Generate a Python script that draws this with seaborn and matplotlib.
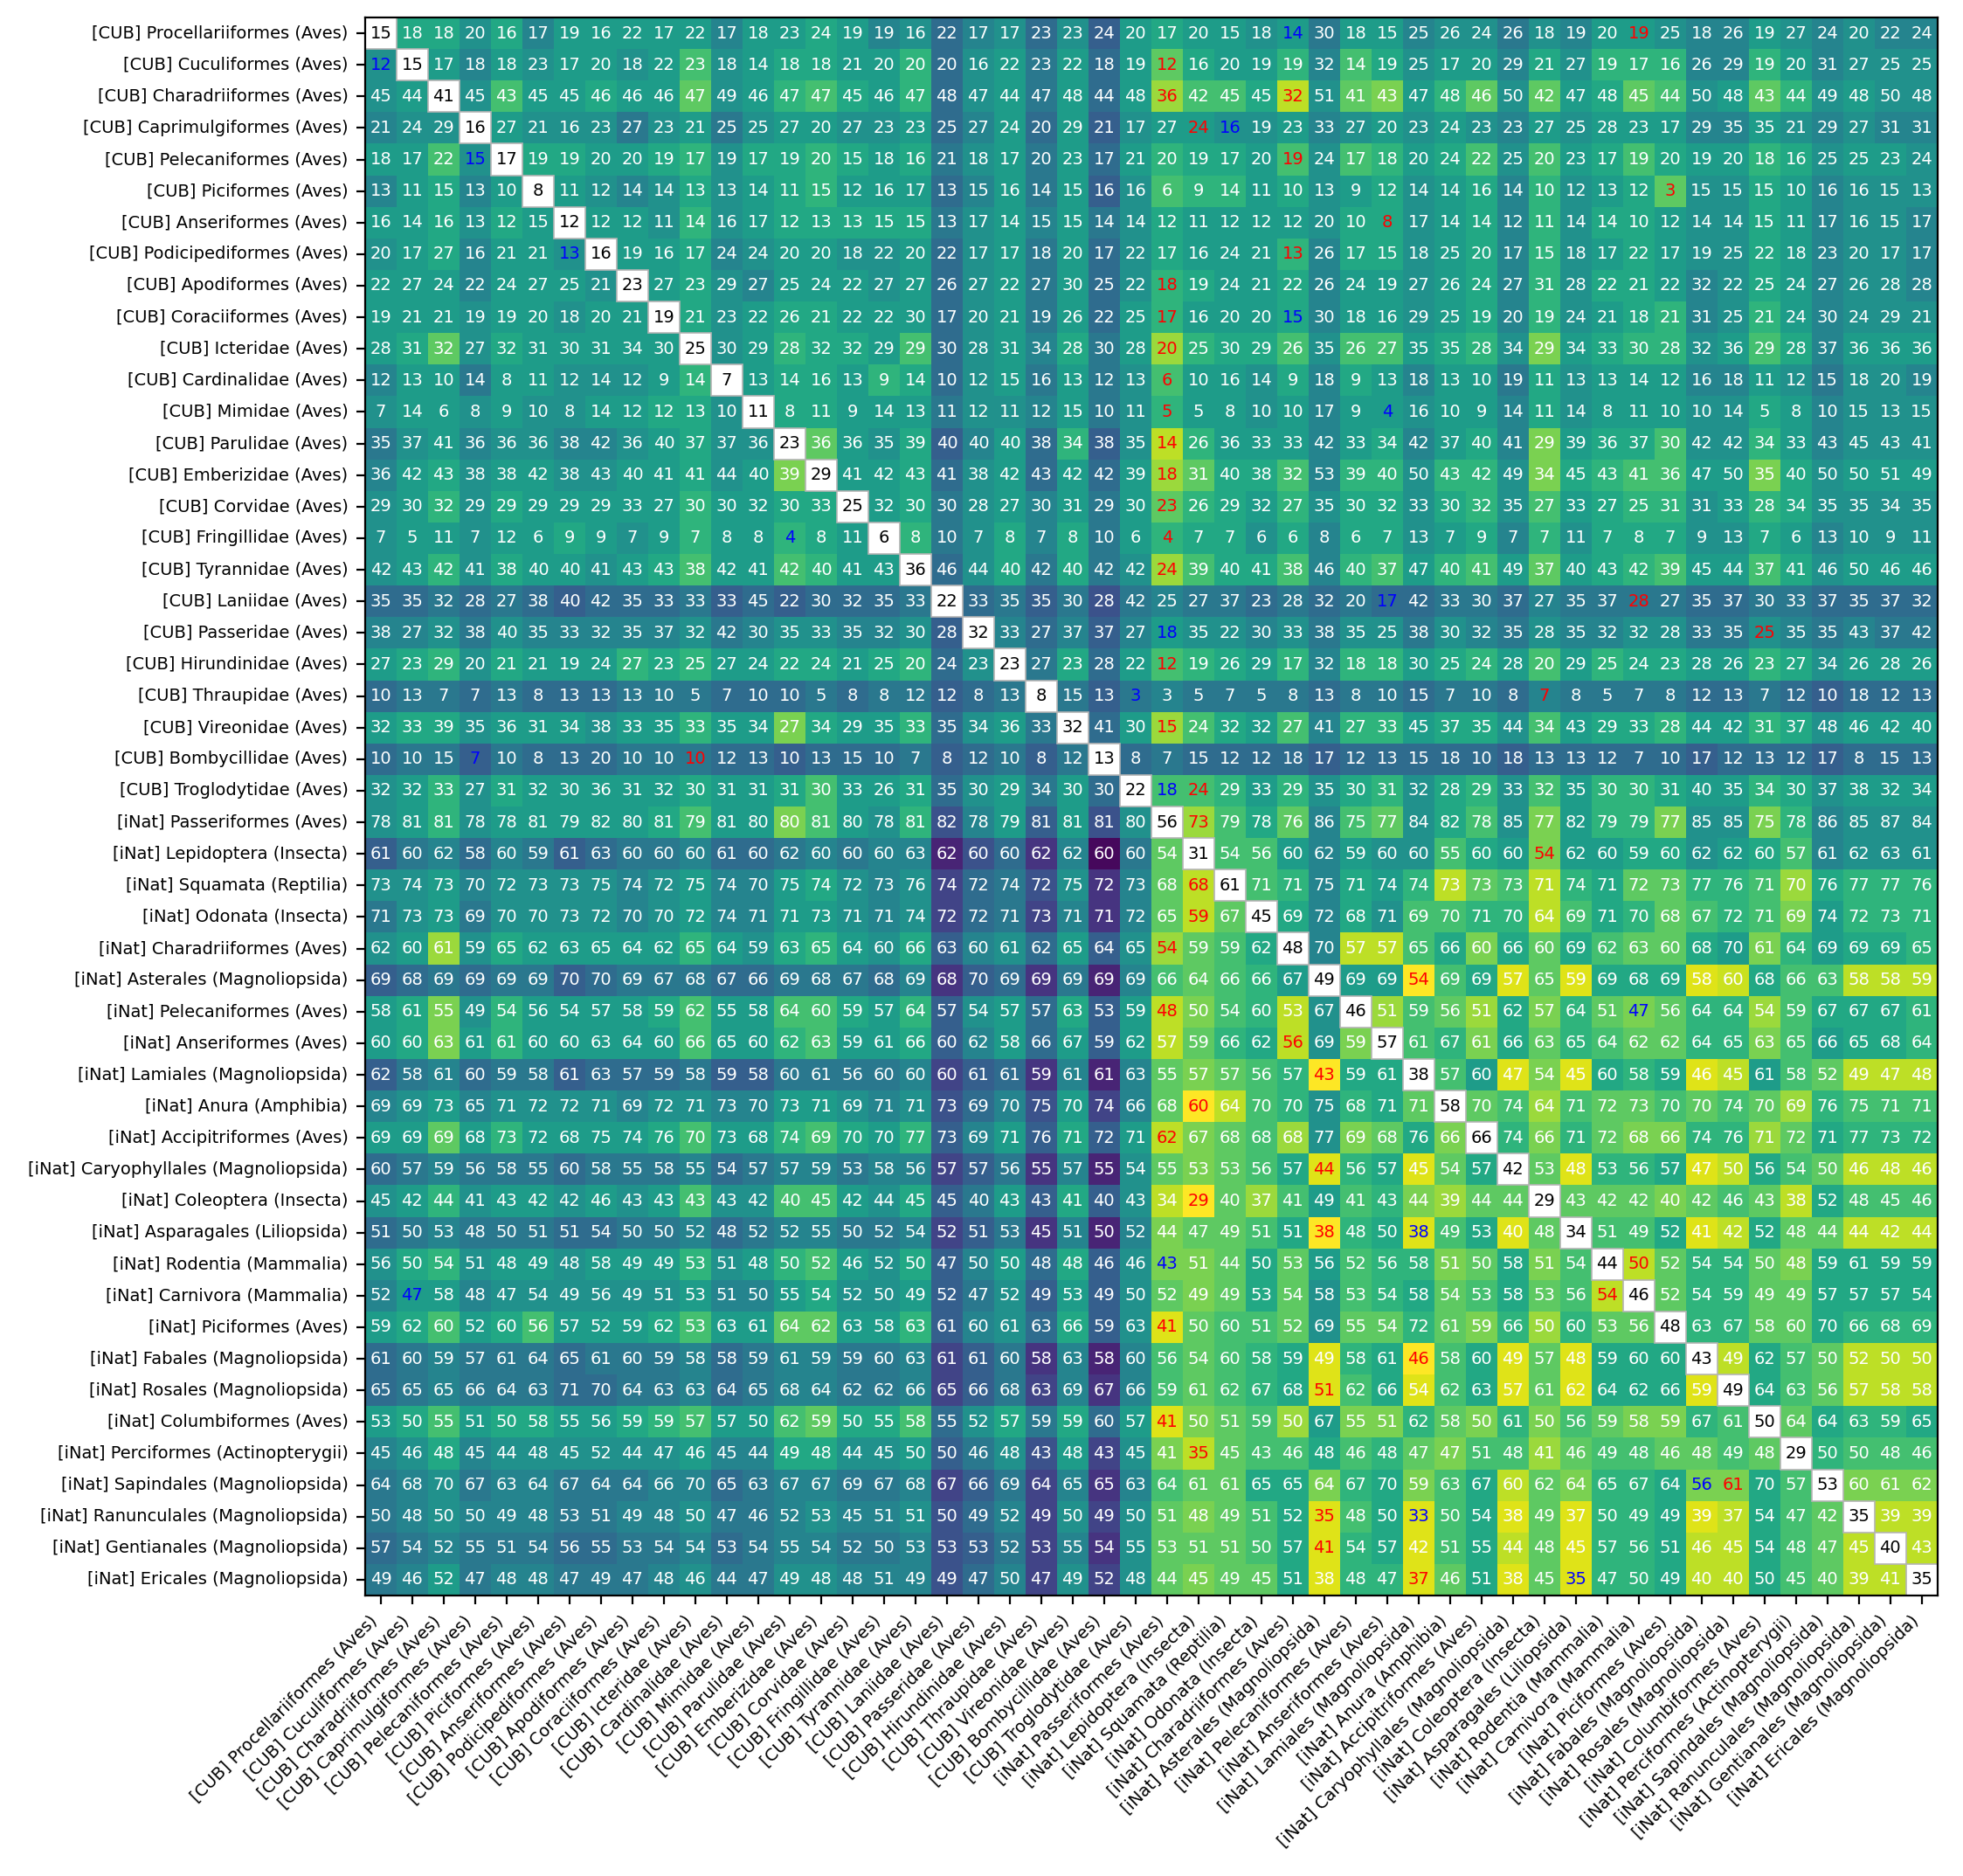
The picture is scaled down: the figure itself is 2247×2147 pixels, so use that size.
import matplotlib

matplotlib.use("Agg")
import matplotlib.pyplot as plt
import numpy as np
import pandas as pd
import seaborn as sns
from matplotlib.colors import ListedColormap
from matplotlib.patches import Rectangle

LABELS = [
    "[CUB] Procellariiformes (Aves)", "[CUB] Cuculiformes (Aves)", "[CUB] Charadriiformes (Aves)",
    "[CUB] Caprimulgiformes (Aves)", "[CUB] Pelecaniformes (Aves)", "[CUB] Piciformes (Aves)",
    "[CUB] Anseriformes (Aves)", "[CUB] Podicipediformes (Aves)", "[CUB] Apodiformes (Aves)",
    "[CUB] Coraciiformes (Aves)", "[CUB] Icteridae (Aves)", "[CUB] Cardinalidae (Aves)",
    "[CUB] Mimidae (Aves)", "[CUB] Parulidae (Aves)", "[CUB] Emberizidae (Aves)",
    "[CUB] Corvidae (Aves)", "[CUB] Fringillidae (Aves)", "[CUB] Tyrannidae (Aves)",
    "[CUB] Laniidae (Aves)", "[CUB] Passeridae (Aves)", "[CUB] Hirundinidae (Aves)",
    "[CUB] Thraupidae (Aves)", "[CUB] Vireonidae (Aves)", "[CUB] Bombycillidae (Aves)",
    "[CUB] Troglodytidae (Aves)", "[iNat] Passeriformes (Aves)", "[iNat] Lepidoptera (Insecta)",
    "[iNat] Squamata (Reptilia)", "[iNat] Odonata (Insecta)", "[iNat] Charadriiformes (Aves)",
    "[iNat] Asterales (Magnoliopsida)", "[iNat] Pelecaniformes (Aves)", "[iNat] Anseriformes (Aves)",
    "[iNat] Lamiales (Magnoliopsida)", "[iNat] Anura (Amphibia)", "[iNat] Accipitriformes (Aves)",
    "[iNat] Caryophyllales (Magnoliopsida)", "[iNat] Coleoptera (Insecta)", "[iNat] Asparagales (Liliopsida)",
    "[iNat] Rodentia (Mammalia)", "[iNat] Carnivora (Mammalia)", "[iNat] Piciformes (Aves)",
    "[iNat] Fabales (Magnoliopsida)", "[iNat] Rosales (Magnoliopsida)", "[iNat] Columbiformes (Aves)",
    "[iNat] Perciformes (Actinopterygii)", "[iNat] Sapindales (Magnoliopsida)", "[iNat] Ranunculales (Magnoliopsida)",
    "[iNat] Gentianales (Magnoliopsida)", "[iNat] Ericales (Magnoliopsida)",
]

# numbers printed in the cells
DIST = [
    [15,18,18,20,16,17,19,16,22,17,22,17,18,23,24,19, 19,16,22,17,17,23,23,24,20,17,20,15,18,14,30,18,15, 25,26,24,26,18,19,20,19,25,18,26,19,27,24,20,22,24],
    [12,15,17,18,18,23,17,20,18,22,23,18,14,18,18,21, 20,20,20,16,22,23,22,18,19,12,16,20,19,19,32,14,19, 25,17,20,29,21,27,19,17,16,26,29,19,20,31,27,25,25],
    [45,44,41,45,43,45,45,46,46,46,47,49,46,47,47,45, 46,47,48,47,44,47,48,44,48,36,42,45,45,32,51,41,43, 47,48,46,50,42,47,48,45,44,50,48,43,44,49,48,50,48],
    [21,24,29,16,27,21,16,23,27,23,21,25,25,27,20,27, 23,23,25,27,24,20,29,21,17,27,24,16,19,23,33,27,20, 23,24,23,23,27,25,28,23,17,29,35,35,21,29,27,31,31],
    [18,17,22,15,17,19,19,20,20,19,17,19,17,19,20,15, 18,16,21,18,17,20,23,17,21,20,19,17,20,19,24,17,18, 20,24,22,25,20,23,17,19,20,19,20,18,16,25,25,23,24],
    [13,11,15,13,10,8,11,12,14,14,13,13,14,11,15,12, 16,17,13,15,16,14,15,16,16,6,9,14,11,10,13,9,12, 14,14,16,14,10,12,13,12,3,15,15,15,10,16,16,15,13],
    [16,14,16,13,12,15,12,12,12,11,14,16,17,12,13,13, 15,15,13,17,14,15,15,14,14,12,11,12,12,12,20,10,8, 17,14,14,12,11,14,14,10,12,14,14,15,11,17,16,15,17],
    [20,17,27,16,21,21,13,16,19,16,17,24,24,20,20,18, 22,20,22,17,17,18,20,17,22,17,16,24,21,13,26,17,15, 18,25,20,17,15,18,17,22,17,19,25,22,18,23,20,17,17],
    [22,27,24,22,24,27,25,21,23,27,23,29,27,25,24,22, 27,27,26,27,22,27,30,25,22,18,19,24,21,22,26,24,19, 27,26,24,27,31,28,22,21,22,32,22,25,24,27,26,28,28],
    [19,21,21,19,19,20,18,20,21,19,21,23,22,26,21,22, 22,30,17,20,21,19,26,22,25,17,16,20,20,15,30,18,16, 29,25,19,20,19,24,21,18,21,31,25,21,24,30,24,29,21],
    [28,31,32,27,32,31,30,31,34,30,25,30,29,28,32,32, 29,29,30,28,31,34,28,30,28,20,25,30,29,26,35,26,27, 35,35,28,34,29,34,33,30,28,32,36,29,28,37,36,36,36],
    [12,13,10,14,8,11,12,14,12,9,14,7,13,14,16,13, 9,14,10,12,15,16,13,12,13,6,10,16,14,9,18,9,13, 18,13,10,19,11,13,13,14,12,16,18,11,12,15,18,20,19],
    [7,14,6,8,9,10,8,14,12,12,13,10,11,8,11,9, 14,13,11,12,11,12,15,10,11,5,5,8,10,10,17,9,4, 16,10,9,14,11,14,8,11,10,10,14,5,8,10,15,13,15],
    [35,37,41,36,36,36,38,42,36,40,37,37,36,23,36,36, 35,39,40,40,40,38,34,38,35,14,26,36,33,33,42,33,34, 42,37,40,41,29,39,36,37,30,42,42,34,33,43,45,43,41],
    [36,42,43,38,38,42,38,43,40,41,41,44,40,39,29,41, 42,43,41,38,42,43,42,42,39,18,31,40,38,32,53,39,40, 50,43,42,49,34,45,43,41,36,47,50,35,40,50,50,51,49],
    [29,30,32,29,29,29,29,29,33,27,30,30,32,30,33,25, 32,30,30,28,27,30,31,29,30,23,26,29,32,27,35,30,32, 33,30,32,35,27,33,27,25,31,31,33,28,34,35,35,34,35],
    [7,5,11,7,12,6,9,9,7,9,7,8,8,4,8,11, 6,8,10,7,8,7,8,10,6,4,7,7,6,6,8,6,7, 13,7,9,7,7,11,7,8,7,9,13,7,6,13,10,9,11],
    [42,43,42,41,38,40,40,41,43,43,38,42,41,42,40,41, 43,36,46,44,40,42,40,42,42,24,39,40,41,38,46,40,37, 47,40,41,49,37,40,43,42,39,45,44,37,41,46,50,46,46],
    [35,35,32,28,27,38,40,42,35,33,33,33,45,22,30,32, 35,33,22,33,35,35,30,28,42,25,27,37,23,28,32,20,17, 42,33,30,37,27,35,37,28,27,35,37,30,33,37,35,37,32],
    [38,27,32,38,40,35,33,32,35,37,32,42,30,35,33,35, 32,30,28,32,33,27,37,37,27,18,35,22,30,33,38,35,25, 38,30,32,35,28,35,32,32,28,33,35,25,35,35,43,37,42],
    [27,23,29,20,21,21,19,24,27,23,25,27,24,22,24,21, 25,20,24,23,23,27,23,28,22,12,19,26,29,17,32,18,18, 30,25,24,28,20,29,25,24,23,28,26,23,27,34,26,28,26],
    [10,13,7,7,13,8,13,13,13,10,5,7,10,10,5,8, 8,12,12,8,13,8,15,13,3,3,5,7,5,8,13,8,10, 15,7,10,8,7,8,5,7,8,12,13,7,12,10,18,12,13],
    [32,33,39,35,36,31,34,38,33,35,33,35,34,27,34,29, 35,33,35,34,36,33,32,41,30,15,24,32,32,27,41,27,33, 45,37,35,44,34,43,29,33,28,44,42,31,37,48,46,42,40],
    [10,10,15,7,10,8,13,20,10,10,10,12,13,10,13,15, 10,7,8,12,10,8,12,13,8,7,15,12,12,18,17,12,13, 15,18,10,18,13,13,12,7,10,17,12,13,12,17,8,15,13],
    [32,32,33,27,31,32,30,36,31,32,30,31,31,31,30,33, 26,31,35,30,29,34,30,30,22,18,24,29,33,29,35,30,31, 32,28,29,33,32,35,30,30,31,40,35,34,30,37,38,32,34],
    [78,81,81,78,78,81,79,82,80,81,79,81,80,80,81,80, 78,81,82,78,79,81,81,81,80,56,73,79,78,76,86,75,77, 84,82,78,85,77,82,79,79,77,85,85,75,78,86,85,87,84],
    [61,60,62,58,60,59,61,63,60,60,60,61,60,62,60,60, 60,63,62,60,60,62,62,60,60,54,31,54,56,60,62,59,60, 60,55,60,60,54,62,60,59,60,62,62,60,57,61,62,63,61],
    [73,74,73,70,72,73,73,75,74,72,75,74,70,75,74,72, 73,76,74,72,74,72,75,72,73,68,68,61,71,71,75,71,74, 74,73,73,73,71,74,71,72,73,77,76,71,70,76,77,77,76],
    [71,73,73,69,70,70,73,72,70,70,72,74,71,71,73,71, 71,74,72,72,71,73,71,71,72,65,59,67,45,69,72,68,71, 69,70,71,70,64,69,71,70,68,67,72,71,69,74,72,73,71],
    [62,60,61,59,65,62,63,65,64,62,65,64,59,63,65,64, 60,66,63,60,61,62,65,64,65,54,59,59,62,48,70,57,57, 65,66,60,66,60,69,62,63,60,68,70,61,64,69,69,69,65],
    [69,68,69,69,69,69,70,70,69,67,68,67,66,69,68,67, 68,69,68,70,69,69,69,69,69,66,64,66,66,67,49,69,69, 54,69,69,57,65,59,69,68,69,58,60,68,66,63,58,58,59],
    [58,61,55,49,54,56,54,57,58,59,62,55,58,64,60,59, 57,64,57,54,57,57,63,53,59,48,50,54,60,53,67,46,51, 59,56,51,62,57,64,51,47,56,64,64,54,59,67,67,67,61],
    [60,60,63,61,61,60,60,63,64,60,66,65,60,62,63,59, 61,66,60,62,58,66,67,59,62,57,59,66,62,56,69,59,57, 61,67,61,66,63,65,64,62,62,64,65,63,65,66,65,68,64],
    [62,58,61,60,59,58,61,63,57,59,58,59,58,60,61,56, 60,60,60,61,61,59,61,61,63,55,57,57,56,57,43,59,61, 38,57,60,47,54,45,60,58,59,46,45,61,58,52,49,47,48],
    [69,69,73,65,71,72,72,71,69,72,71,73,70,73,71,69, 71,71,73,69,70,75,70,74,66,68,60,64,70,70,75,68,71, 71,58,70,74,64,71,72,73,70,70,74,70,69,76,75,71,71],
    [69,69,69,68,73,72,68,75,74,76,70,73,68,74,69,70, 70,77,73,69,71,76,71,72,71,62,67,68,68,68,77,69,68, 76,66,66,74,66,71,72,68,66,74,76,71,72,71,77,73,72],
    [60,57,59,56,58,55,60,58,55,58,55,54,57,57,59,53, 58,56,57,57,56,55,57,55,54,55,53,53,56,57,44,56,57, 45,54,57,42,53,48,53,56,57,47,50,56,54,50,46,48,46],
    [45,42,44,41,43,42,42,46,43,43,43,43,42,40,45,42, 44,45,45,40,43,43,41,40,43,34,29,40,37,41,49,41,43, 44,39,44,44,29,43,42,42,40,42,46,43,38,52,48,45,46],
    [51,50,53,48,50,51,51,54,50,50,52,48,52,52,55,50, 52,54,52,51,53,45,51,50,52,44,47,49,51,51,38,48,50, 38,49,53,40,48,34,51,49,52,41,42,52,48,44,44,42,44],
    [56,50,54,51,48,49,48,58,49,49,53,51,48,50,52,46, 52,50,47,50,50,48,48,46,46,43,51,44,50,53,56,52,56, 58,51,50,58,51,54,44,50,52,54,54,50,48,59,61,59,59],
    [52,47,58,48,47,54,49,56,49,51,53,51,50,55,54,52, 50,49,52,47,52,49,53,49,50,52,49,49,53,54,58,53,54, 58,54,53,58,53,56,54,46,52,54,59,49,49,57,57,57,54],
    [59,62,60,52,60,56,57,52,59,62,53,63,61,64,62,63, 58,63,61,60,61,63,66,59,63,41,50,60,51,52,69,55,54, 72,61,59,66,50,60,53,56,48,63,67,58,60,70,66,68,69],
    [61,60,59,57,61,64,65,61,60,59,58,58,59,61,59,59, 60,63,61,61,60,58,63,58,60,56,54,60,58,59,49,58,61, 46,58,60,49,57,48,59,60,60,43,49,62,57,50,52,50,50],
    [65,65,65,66,64,63,71,70,64,63,63,64,65,68,64,62, 62,66,65,66,68,63,69,67,66,59,61,62,67,68,51,62,66, 54,62,63,57,61,62,64,62,66,59,49,64,63,56,57,58,58],
    [53,50,55,51,50,58,55,56,59,59,57,57,50,62,59,50, 55,58,55,52,57,59,59,60,57,41,50,51,59,50,67,55,51, 62,58,50,61,50,56,59,58,59,67,61,50,64,64,63,59,65],
    [45,46,48,45,44,48,45,52,44,47,46,45,44,49,48,44, 45,50,50,46,48,43,48,43,45,41,35,45,43,46,48,46,48, 47,47,51,48,41,46,49,48,46,48,49,48,29,50,50,48,46],
    [64,68,70,67,63,64,67,64,64,66,70,65,63,67,67,69, 67,68,67,66,69,64,65,65,63,64,61,61,65,65,64,67,70, 59,63,67,60,62,64,65,67,64,56,61,70,57,53,60,61,62],
    [50,48,50,50,49,48,53,51,49,48,50,47,46,52,53,45, 51,51,50,49,52,49,50,49,50,51,48,49,51,52,35,48,50, 33,50,54,38,49,37,50,49,49,39,37,54,47,42,35,39,39],
    [57,54,52,55,51,54,56,55,53,54,54,53,54,55,54,52, 50,53,53,53,52,53,55,54,55,53,51,51,50,57,41,54,57, 42,51,55,44,48,45,57,56,51,46,45,54,48,47,45,40,43],
    [49,46,52,47,48,48,47,49,47,48,46,44,47,49,48,48, 51,49,49,47,50,47,49,52,48,44,45,49,45,51,38,48,47, 37,46,51,38,45,35,47,50,49,40,40,50,45,40,39,41,35],
]

# colour level of each cell (0 = darkest, 100 = brightest)
SHADE = [
    [0,60,60,50,60,45,55,55,55,55,55,45,55,55,60,55, 45,50,35,45,50,35,50,30,55,60,55,55,50,55,40,55,55, 45,50,50,40,50,45,55,55,50,45,45,55,50,45,50,45,45],
    [50,0,55,45,55,50,55,55,50,55,70,50,55,60,60,55, 55,65,35,50,55,40,55,35,55,75,60,55,55,65,45,70,60, 50,55,55,45,60,50,65,65,65,45,45,65,55,45,50,50,50],
    [50,55,0,50,70,55,55,60,55,55,75,50,55,65,70,60, 55,65,35,50,55,40,55,35,55,85,70,70,60,90,50,75,80, 55,65,75,50,75,55,60,75,70,50,55,75,65,50,55,50,50],
    [45,50,50,0,55,50,50,50,40,50,55,40,50,55,55,50, 50,55,35,45,55,35,55,30,50,55,55,50,50,55,45,50,55, 50,55,50,45,55,50,55,55,55,45,45,55,50,45,50,45,45],
    [55,55,70,50,0,60,60,55,55,60,65,50,60,60,65,60, 55,60,40,50,55,40,55,35,55,65,60,60,55,70,50,70,65, 55,60,70,50,70,55,60,70,60,55,55,65,60,50,55,55,50],
    [45,55,60,45,55,0,55,50,45,50,60,50,55,60,65,55, 55,55,35,45,55,40,55,30,50,70,65,65,55,60,50,55,60, 50,55,60,45,65,50,55,60,75,50,50,60,55,45,50,50,50],
    [55,55,60,50,60,55,0,55,55,50,65,50,55,60,60,60, 60,60,40,50,55,45,55,40,50,60,55,55,55,55,50,60,60, 50,55,60,45,65,50,60,60,55,50,50,60,55,45,50,50,45],
    [50,55,60,45,55,55,50,0,55,55,60,45,50,55,55,50, 50,55,35,50,55,40,55,35,50,60,55,55,55,65,45,60,60, 50,55,60,45,65,50,55,60,55,50,50,60,55,45,50,50,45],
    [55,55,55,45,55,55,55,50,0,55,60,50,45,55,55,55, 50,55,35,50,55,40,55,35,50,65,60,55,55,60,45,55,55, 50,55,60,45,65,50,60,60,55,45,50,60,55,45,50,50,45],
    [55,55,55,50,55,55,50,55,55,0,60,50,55,60,60,55, 55,55,35,50,55,40,55,35,55,65,55,55,55,60,45,55,55, 50,55,60,45,65,50,55,60,65,45,50,65,55,45,50,50,50],
    [55,60,75,50,60,55,55,55,55,55,0,50,55,65,60,60, 55,70,35,50,55,45,60,40,55,85,65,60,60,70,50,70,70, 55,60,65,50,80,55,60,65,65,50,55,70,60,45,55,55,55],
    [45,55,55,40,55,55,50,50,50,55,65,0,55,60,60,55, 65,60,35,50,55,40,55,40,50,70,55,55,50,60,45,60,55, 45,55,55,40,60,50,55,55,55,45,45,55,50,40,50,50,45],
    [50,55,55,50,55,50,50,55,55,60,60,50,0,60,60,55, 55,55,40,50,50,45,55,40,50,65,55,55,50,55,45,55,55, 50,55,55,45,60,50,55,55,55,50,50,60,55,45,50,50,50],
    [40,50,55,45,50,50,45,45,50,55,60,50,50,0,75,55, 50,60,30,45,55,35,65,30,50,90,65,55,55,55,45,55,60, 45,55,60,45,80,55,60,60,70,50,50,65,55,45,50,50,50],
    [45,55,60,50,55,55,50,50,55,55,60,50,55,80,0,55, 55,60,35,50,55,35,55,35,55,85,75,60,60,70,45,65,65, 50,65,65,50,80,60,65,70,70,55,55,80,60,50,55,55,55],
    [50,55,65,50,60,55,55,55,55,55,65,55,55,60,60,0, 55,60,40,50,55,45,55,40,55,75,65,60,55,65,50,60,60, 50,60,65,50,70,55,60,65,65,50,55,65,60,50,50,50,50],
    [50,55,55,50,55,55,60,55,50,55,65,55,55,65,60,55, 0,65,40,50,60,45,60,40,55,65,60,60,50,60,45,60,60, 50,55,60,45,65,50,60,60,60,50,50,60,55,45,50,50,50],
    [50,55,65,50,60,55,55,50,55,60,70,55,55,70,65,55, 55,0,35,50,60,40,60,40,50,85,70,60,60,70,45,65,70, 55,65,70,55,75,55,60,65,70,55,55,70,60,50,55,55,55],
    [35,35,40,35,40,35,30,35,35,35,40,30,35,30,35,35, 35,40,0,35,40,30,40,25,40,45,40,40,35,40,35,40,35, 35,40,40,35,45,40,40,40,40,35,35,40,40,35,35,35,35],
    [45,45,50,40,50,45,45,45,45,45,50,40,45,50,50,45, 45,50,30,0,45,35,45,30,45,55,50,50,45,50,40,50,50, 40,50,45,40,50,45,45,50,50,40,40,50,45,40,45,40,40],
    [55,60,65,50,60,55,55,55,65,60,65,55,55,60,60,55, 60,65,35,50,0,40,60,35,55,70,65,60,55,65,45,65,65, 55,60,65,55,70,55,65,60,60,55,55,65,60,50,55,55,55],
    [35,40,40,35,40,35,35,35,40,40,40,35,35,35,40,35, 40,40,30,35,40,0,40,30,40,45,40,40,40,40,35,40,40, 35,40,40,35,45,40,40,40,40,35,35,40,35,30,35,35,35],
    [55,60,60,50,55,55,55,50,55,55,65,55,55,80,60,55, 55,65,35,50,55,40,0,35,55,85,70,60,55,70,45,65,65, 55,60,60,50,70,55,60,60,65,55,55,65,60,50,55,55,55],
    [35,40,40,30,40,35,35,35,40,40,40,35,35,30,35,35, 35,40,30,35,40,30,40,0,35,40,35,35,35,35,30,35,35, 35,35,35,30,35,35,35,35,35,30,35,35,35,30,35,35,35],
    [50,55,65,50,60,55,55,55,55,55,60,55,55,60,70,55, 55,60,35,50,55,40,55,35,0,70,70,65,55,65,50,60,65, 50,60,65,50,70,55,65,65,60,55,55,65,60,50,55,55,55],
    [50,55,65,50,55,55,55,55,55,60,70,55,55,80,70,55, 50,65,25,45,55,30,55,25,50,0,85,70,60,75,45,70,75, 50,60,70,50,80,55,65,65,80,50,50,80,65,45,50,50,50],
    [30,40,45,35,45,40,30,35,40,40,45,35,35,40,45,40, 45,45,10,25,35,15,45,2,40,75,0,70,70,55,45,55,50, 50,70,60,55,80,55,55,60,60,50,55,60,70,45,50,50,50],
    [50,50,55,45,50,50,50,50,45,50,55,45,45,55,60,50, 45,50,20,35,40,25,50,15,45,75,90,0,70,65,45,60,55, 65,90,75,70,90,65,60,75,75,65,65,70,85,60,65,65,65],
    [40,50,55,40,50,50,50,50,45,50,55,45,45,55,55,50, 45,50,20,35,40,20,45,15,45,75,90,75,0,60,45,60,50, 70,70,65,65,90,70,60,65,75,70,65,70,80,55,65,65,65],
    [50,55,85,50,60,55,55,55,55,55,65,55,50,60,65,55, 50,60,30,45,50,35,55,30,50,85,75,70,60,0,45,90,90, 70,60,80,60,75,60,70,75,75,60,55,80,65,55,60,60,65],
    [30,35,40,35,40,40,30,35,40,40,40,35,35,40,40,40, 35,45,15,30,35,15,40,10,45,70,75,70,65,55,0,55,55, 100,70,60,95,75,95,60,60,60,95,92,60,70,70,90,90,90],
    [55,60,80,50,65,55,55,55,55,60,70,55,55,70,70,60, 55,65,30,50,55,35,60,30,55,90,80,70,65,90,50,0,85, 70,75,85,60,80,65,75,80,75,65,65,85,70,60,60,60,65],
    [55,60,80,55,65,55,55,55,55,55,70,55,55,65,70,55, 55,60,30,45,55,35,55,30,55,90,75,65,60,90,50,80,0, 70,65,80,60,75,65,70,75,75,65,65,80,70,55,60,60,65],
    [30,40,45,35,40,40,30,35,35,35,40,30,30,40,40,40, 40,45,20,30,35,15,45,10,45,75,80,75,70,65,100,60,60, 0,70,55,95,80,95,60,65,60,95,90,55,70,75,90,90,90],
    [45,50,55,45,50,50,50,50,45,50,50,45,45,55,55,50, 45,50,25,35,45,25,55,20,45,75,100,90,70,65,50,65,60, 75,0,75,70,85,70,75,75,70,75,70,75,85,65,70,70,70],
    [55,55,75,55,65,55,55,55,55,60,70,55,55,65,70,60, 55,65,30,45,55,30,60,30,55,90,80,75,70,85,50,80,75, 60,80,0,65,80,65,75,80,80,65,65,85,75,60,65,65,65],
    [35,40,45,40,40,40,35,40,40,40,45,35,40,45,45,40, 45,45,20,30,40,15,45,10,50,75,80,75,70,60,95,65,60, 95,75,60,0,75,95,65,65,60,95,90,60,70,75,90,90,90],
    [50,55,65,50,55,55,50,55,50,55,70,50,50,70,70,55, 50,60,30,40,55,30,60,30,50,90,100,75,85,70,55,70,65, 80,85,75,75,0,75,75,75,80,75,70,75,90,60,70,70,70],
    [35,40,45,40,40,40,35,35,40,40,45,35,40,45,45,40, 40,45,20,30,40,15,45,10,45,80,75,75,70,60,100,65,60, 95,70,60,95,75,0,70,70,60,95,90,60,75,75,90,90,90],
    [50,60,65,50,55,55,50,55,55,55,65,50,55,65,70,55, 50,60,30,45,55,35,60,30,50,80,80,75,60,75,55,70,65, 65,80,75,60,80,70,0,90,75,65,65,75,80,60,60,60,60],
    [45,55,55,45,50,50,50,50,50,50,55,45,45,55,60,50, 50,55,30,40,50,30,55,30,50,75,80,75,60,75,50,70,65, 60,75,70,60,75,70,90,0,75,65,65,75,75,60,60,60,60],
    [55,60,70,55,60,70,55,55,55,60,70,55,55,75,75,55, 55,65,30,45,50,35,60,30,50,95,75,70,70,75,50,75,75, 65,75,80,65,85,65,75,75,0,65,65,75,75,60,65,65,65],
    [35,40,45,40,40,40,35,40,40,40,45,35,40,45,45,40, 40,45,20,30,40,15,45,10,45,70,75,70,65,60,95,65,60, 100,70,60,95,75,95,60,60,60,0,90,60,70,75,90,90,90],
    [35,40,45,40,40,40,35,35,40,40,45,35,40,45,45,40, 40,45,20,30,40,20,45,15,45,70,75,70,65,60,95,70,60, 95,70,60,95,75,95,60,60,60,95,0,60,70,75,90,90,90],
    [55,60,70,55,60,60,55,55,60,65,70,55,55,70,75,60, 60,70,35,50,60,40,60,35,55,95,80,75,70,85,55,80,80, 65,75,80,65,80,70,75,80,80,65,70,0,75,60,65,65,60],
    [45,50,60,45,50,50,50,50,50,50,55,45,45,60,60,50, 50,55,30,40,50,25,55,20,50,80,90,75,70,70,60,70,65, 75,80,70,70,85,75,70,70,75,75,70,75,0,65,70,70,70],
    [40,45,50,40,45,45,40,40,40,45,45,35,40,45,45,40, 40,45,20,30,40,20,45,15,45,70,75,75,60,60,80,65,60, 80,70,60,90,75,80,65,65,60,80,80,60,70,0,80,80,80],
    [40,45,50,45,45,45,40,40,45,45,50,40,40,45,50,45, 45,50,25,35,45,20,50,20,50,75,80,75,70,60,95,70,60, 95,70,60,95,75,95,65,65,60,95,90,60,70,75,0,90,90],
    [35,40,45,40,40,40,35,35,40,40,45,35,40,45,45,40, 40,45,25,30,40,20,45,15,50,75,75,75,70,60,95,65,60, 95,70,60,90,75,95,65,65,60,90,90,60,70,75,90,0,90],
    [40,45,55,40,45,45,40,40,40,45,50,40,40,50,50,45, 45,45,25,35,45,20,50,20,50,75,80,75,75,60,95,65,65, 95,75,60,95,75,95,65,65,60,90,90,60,70,75,90,90,0],
]

# (row, column) of the numbers printed in red / blue
RED_CELLS = [
    (0, 40), (1, 25), (2, 25), (2, 29), (3, 26), (4, 29), (5, 41), (6, 32), (7, 29),
    (8, 25), (9, 25), (10, 25), (11, 25), (12, 25), (13, 25), (14, 25), (15, 25),
    (16, 25), (17, 25), (18, 40), (19, 44), (20, 25), (21, 37), (22, 25), (23, 10),
    (24, 26), (25, 26), (26, 37), (27, 26), (28, 26), (29, 25), (30, 33), (31, 25),
    (32, 29), (33, 30), (34, 26), (35, 25), (36, 30), (37, 26), (38, 30), (39, 40),
    (40, 39), (41, 25), (42, 33), (43, 30), (44, 25), (45, 26), (46, 43), (47, 30),
    (48, 30), (49, 33),
]
BLUE_CELLS = [
    (0, 29), (1, 0), (3, 27), (4, 3), (7, 6), (9, 29), (12, 32), (16, 13), (18, 32),
    (19, 25), (21, 24), (23, 3), (24, 25), (31, 40), (38, 33), (39, 25), (40, 1),
    (46, 42), (47, 33), (49, 38),
]

n = len(LABELS)
for row in DIST + SHADE:
    assert len(row) == n, row

dist = pd.DataFrame(DIST, index=LABELS, columns=LABELS)
shade = pd.DataFrame(SHADE, index=LABELS, columns=LABELS) / 100.0
diag = np.eye(n, dtype=bool)

fig = plt.figure(figsize=(11.235, 10.735), dpi=200)
ax = fig.add_axes([0.186, 0.1495, 0.801, 0.8412])

sns.heatmap(shade, mask=diag, cmap="viridis", vmin=0, vmax=1, cbar=False,
            annot=dist.values, fmt="d", annot_kws={"fontsize": 7, "color": "white"},
            xticklabels=LABELS, yticklabels=LABELS, ax=ax)
# diagonal: white cells with black numbers
sns.heatmap(shade, mask=~diag, cmap=ListedColormap(["white"]), cbar=False,
            annot=dist.values, fmt="d", annot_kws={"fontsize": 7, "color": "black"},
            xticklabels=LABELS, yticklabels=LABELS, ax=ax)
for i in range(n):
    ax.add_patch(Rectangle((i, i), 1, 1, fill=False, edgecolor="#b4b4b4", linewidth=0.6))

red = set(RED_CELLS)
blue = set(BLUE_CELLS)
for t in ax.texts:
    x, y = t.get_position()
    cell = (int(y), int(x))
    if cell in red:
        t.set_color("red")
    elif cell in blue:
        t.set_color("blue")

for s in ax.spines.values():
    s.set_visible(True)
    s.set_color("black")
    s.set_linewidth(0.8)

ax.set_xticklabels(LABELS, rotation=45, ha="right", fontsize=7)
ax.set_yticklabels(LABELS, rotation=0, fontsize=7)
ax.tick_params(length=3.5, width=0.8)

fig.savefig("out.png", dpi=200)
